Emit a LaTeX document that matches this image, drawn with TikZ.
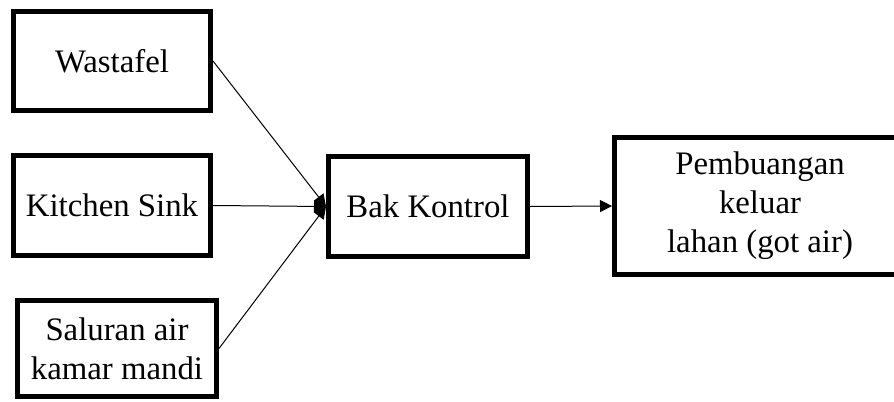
\documentclass[tikz,border=0pt]{standalone}
\usepackage{fontspec}
\setmainfont{Liberation Serif}
\usetikzlibrary{arrows.meta}
\begin{document}
\begin{tikzpicture}[x=0.75pt,y=-0.75pt,
  box/.style={draw, line width=3.5pt, inner sep=0pt, align=center,
    font=\fontsize{24.6pt}{29.25pt}\selectfont},
  conn/.style={line width=0.75pt, -{Triangle[length=9pt,width=9pt]}}]
\useasboundingbox (0,0) rectangle (894,401);
\clip (0,0) rectangle (894,401);
\node[box, minimum width=148pt, minimum height=74.5pt] (was) at (112,61) {Wastafel};
\node[box, minimum width=148pt, minimum height=75.25pt] (kit) at (112,205.5) {Kitchen Sink};
\node[box, minimum width=149.5pt, minimum height=72.25pt] (sal) at (117,348.5) {Saluran air\\kamar mandi};
\node[box, minimum width=149.5pt, minimum height=75.25pt] (bak) at (428,206.5) {Bak Kontrol};
\node[box, minimum width=218.5pt, minimum height=103pt] (pem) at (760,206) {Pembuangan\\keluar\\lahan (got air)};
\draw[conn] (was.east) -- (bak.west);
\draw[conn] (kit.east) -- (bak.west);
\draw[conn] (sal.east) -- (bak.west);
\draw[conn] (bak.east) -- (pem.west);
\end{tikzpicture}
\end{document}
